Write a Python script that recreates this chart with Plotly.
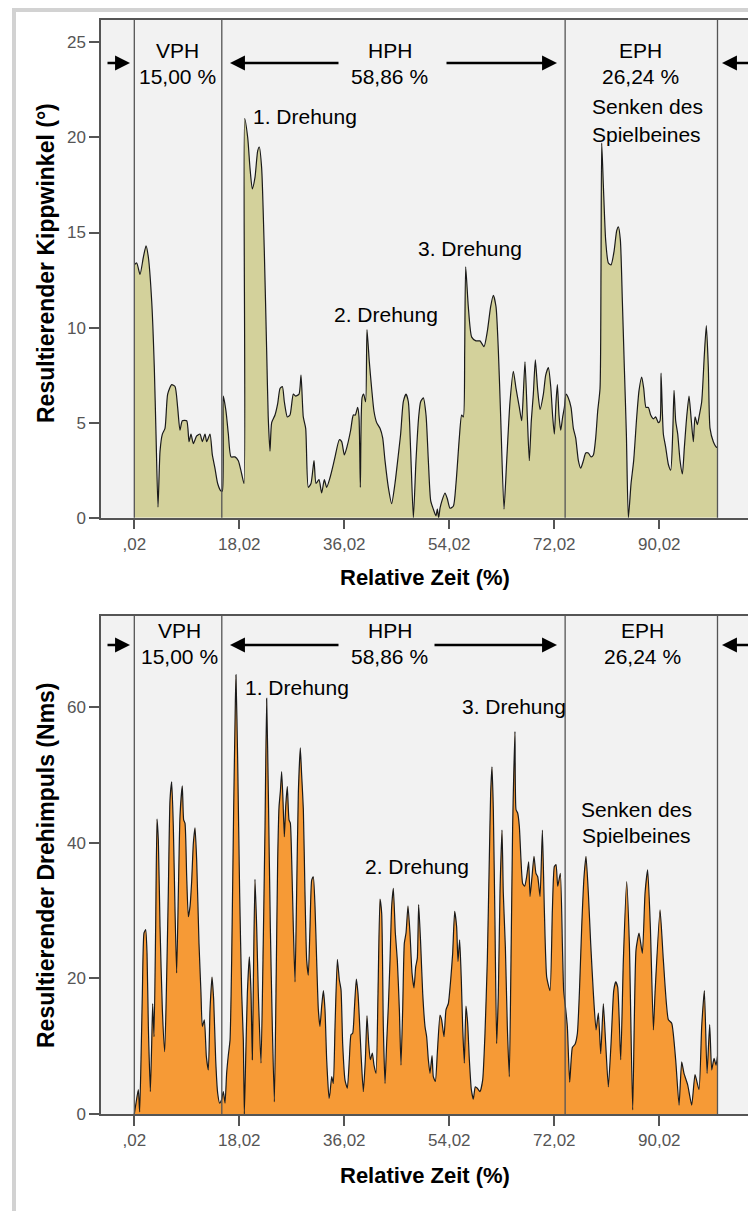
import plotly.graph_objects as go

# ---------------- data ----------------
time_kipp = [0.02, 0.43, 1.0, 1.57, 2.03, 2.43, 3.0, 3.45, 3.74, 4.08, 4.43, 4.83, 5.28, 5.74, 6.43, 7.0,
             7.45, 7.85, 8.25, 9.0, 9.4, 9.74, 10.14, 10.71, 11.28, 11.68, 12.14, 12.43, 13.0, 13.4, 13.85,
             14.31, 14.88, 15.11, 15.28, 15.74, 16.14, 16.6, 17.28, 17.85, 18.43, 18.83, 18.94, 19.46, 19.85,
             20.25, 20.71, 21.17, 21.45, 21.85, 22.31, 22.71, 22.98, 23.28, 23.57, 24.14, 24.6, 25.0, 25.4,
             25.74, 26.26, 26.71, 27.28, 27.68, 28.26, 28.6, 28.99, 29.4, 29.85, 30.31, 30.83, 31.17, 31.68,
             32.14, 32.6, 33.0, 33.57, 34.14, 34.43, 35.17, 35.57, 36.03, 36.54, 37.11, 37.57, 37.91, 38.31,
             38.54, 38.77, 39.06, 39.34, 39.68, 39.91, 40.31, 40.71, 41.11, 41.57, 42.14, 42.6, 43.0, 43.57,
             44.14, 44.71, 45.28, 45.68, 46.14, 46.6, 47.0, 47.4, 47.86, 48.31, 48.77, 49.11, 49.57, 50.03,
             50.43, 50.83, 51.28, 51.74, 51.97, 52.2, 52.43, 52.77, 53.28, 53.68, 54.14, 54.71, 55.17, 55.74,
             56.14, 56.43, 56.66, 56.83, 57.28, 57.86, 58.6, 59.28, 59.97, 60.54, 61.11, 61.57, 62.03, 62.43,
             62.83, 63.4, 63.86, 64.43, 65.0, 65.46, 66.03, 66.43, 66.71, 67.0, 67.4, 67.74, 68.08, 68.43,
             68.77, 69.18, 69.58, 70.15, 70.55, 71.01, 71.41, 71.75, 72.03, 72.32, 72.55, 72.83, 73.12, 73.46,
             73.75, 74.03, 74.43, 74.89, 75.29, 75.69, 76.15, 76.55, 77.01, 77.41, 77.86, 78.32, 78.72, 79.12,
             79.46, 79.86, 80.03, 80.15, 80.43, 80.83, 81.29, 81.75, 82.26, 82.72, 83.01, 83.35, 83.69, 84.03,
             84.38, 84.72, 85.18, 85.63, 86.15, 86.55, 87.01, 87.35, 87.75, 88.15, 88.55, 89.01, 89.41, 89.86,
             90.15, 90.32, 90.72, 91.12, 91.58, 91.98, 92.32, 92.55, 92.83, 93.18, 93.58, 93.98, 94.32, 94.72,
             95.12, 95.46, 95.86, 96.15, 96.55, 96.89, 97.29, 97.75, 98.09, 98.43, 98.72, 99.29, 99.86, 100.0]
kippwinkel = [13.3, 13.4, 12.8, 13.7, 14.3, 13.7, 11.4, 7.9, 4.4, 0.56, 3.5, 4.4, 4.7, 6.5, 7.0, 6.9,
              5.8, 4.6, 5.1, 5.1, 4.0, 4.4, 3.9, 4.3, 4.4, 4.0, 4.4, 4.0, 4.4, 3.3, 2.6,
              1.8, 1.4, 1.4, 6.4, 5.6, 4.4, 3.2, 3.2, 3.0, 2.3, 1.8, 21.0, 20.0, 18.4,
              17.3, 17.9, 19.3, 19.5, 18.4, 14.0, 8.8, 5.3, 3.5, 5.0, 5.4, 6.0, 6.8, 6.9,
              6.1, 5.3, 5.4, 6.5, 6.4, 6.5, 7.5, 5.3, 4.7, 1.6, 1.8, 3.0, 1.8, 2.0,
              1.3, 2.0, 1.6, 2.1, 2.8, 3.2, 4.1, 4.0, 3.3, 3.8, 4.6, 5.4, 5.4, 5.8,
              5.3, 1.6, 6.3, 6.5, 6.1, 9.9, 8.2, 6.8, 5.6, 5.0, 4.7, 4.2, 3.0, 1.6,
              0.74, 1.8, 3.3, 4.4, 6.1, 6.5, 6.1, 3.5, 0.0, 3.0, 5.3, 6.1, 6.3, 5.4,
              3.0, 0.9, 0.45, 0.1, 0.45, 0.0, 0.5, 0.9, 1.3, 1.0, 0.5, 0.6, 1.8, 4.2,
              5.4, 5.3, 8.8, 13.2, 11.1, 9.5, 9.3, 9.3, 9.0, 9.8, 11.1, 11.7, 11.1, 8.8,
              5.3, 0.45, 3.0, 6.1, 7.7, 6.8, 5.8, 5.1, 6.5, 8.2, 5.3, 3.0, 5.1, 6.5,
              8.3, 6.7, 5.7, 6.5, 7.5, 7.9, 6.9, 5.3, 4.4, 6.1, 7.0, 5.4, 4.6, 5.3,
              5.8, 6.5, 6.3, 5.8, 4.7, 4.2, 3.0, 2.6, 3.0, 3.4, 3.4, 3.2, 3.3, 4.2,
              5.6, 6.8, 13.1, 19.7, 17.5, 14.6, 13.4, 13.3, 14.0, 15.1, 15.3, 14.6, 11.4, 7.9,
              4.4, 0.0, 1.8, 3.0, 5.3, 6.7, 7.4, 6.8, 5.8, 5.8, 5.4, 5.2, 5.3, 5.0,
              5.1, 7.6, 4.4, 3.7, 2.8, 2.5, 4.4, 6.7, 5.1, 4.4, 3.0, 2.3, 3.7, 5.3,
              6.4, 5.3, 4.0, 5.3, 4.9, 5.4, 6.1, 8.6, 10.1, 7.9, 4.7, 4.0, 3.7, 3.7]

time_dreh = [0.02, 0.31, 0.71, 0.94, 1.17, 1.4, 1.68, 1.97, 2.2, 2.43, 2.77, 3.0, 3.17, 3.4, 3.68, 3.91,
             4.14, 4.43, 4.83, 5.23, 5.51, 5.85, 6.14, 6.43, 6.71, 7.0, 7.28, 7.57, 7.85, 8.25, 8.48,
             8.71, 9.0, 9.28, 9.57, 9.85, 10.14, 10.43, 10.71, 11.11, 11.45, 11.68, 12.03, 12.37, 12.71,
             13.0, 13.34, 13.63, 13.97, 14.31, 14.65, 14.98, 15.28, 15.57, 15.85, 16.14, 16.43, 16.71,
             17.05, 17.34, 17.45, 17.74, 18.08, 18.43, 18.71, 18.88, 19.11, 19.4, 19.74, 20.03, 20.25,
             20.48, 20.71, 21.0, 21.28, 21.74, 22.08, 22.43, 22.71, 23.0, 23.34, 23.68, 24.03, 24.31,
             24.6, 24.83, 25.06, 25.28, 25.51, 25.74, 25.97, 26.25, 26.54, 26.77, 27.0, 27.28, 27.57,
             27.85, 28.14, 28.48, 28.71, 29.0, 29.28, 29.57, 29.85, 30.14, 30.43, 30.71, 31.0, 31.28,
             31.57, 31.85, 32.14, 32.43, 32.71, 33.0, 33.4, 33.57, 33.86, 34.14, 34.43, 34.83, 35.17,
             35.46, 35.74, 36.14, 36.54, 36.88, 37.17, 37.46, 37.74, 38.08, 38.37, 38.6, 38.94, 39.28,
             39.63, 39.91, 40.2, 40.48, 40.83, 41.11, 41.46, 41.8, 42.14, 42.43, 42.71, 43.0, 43.28,
             43.57, 43.86, 44.14, 44.43, 44.77, 45.11, 45.46, 45.74, 46.03, 46.31, 46.6, 46.94, 47.28,
             47.63, 47.97, 48.26, 48.54, 48.77, 49.11, 49.46, 49.86, 50.14, 50.43, 50.71, 51.06, 51.28,
             51.63, 51.97, 52.43, 52.71, 53.11, 53.46, 53.86, 54.26, 54.6, 54.94, 55.28, 55.51, 55.8,
             56.08, 56.31, 56.6, 56.88, 57.17, 57.46, 57.8, 58.14, 58.48, 58.83, 59.28, 59.74, 60.14,
             60.54, 60.88, 61.11, 61.34, 61.57, 61.86, 62.14, 62.43, 62.71, 63.06, 63.28, 63.63, 63.97,
             64.31, 64.6, 64.88, 65.06, 65.28, 65.46, 65.74, 66.03, 66.31, 66.6, 66.94, 67.28, 67.63,
             67.86, 68.2, 68.54, 68.88, 69.18, 69.58, 69.98, 70.32, 70.72, 71.29, 71.69, 72.03, 72.32,
             72.61, 73.06, 73.41, 73.63, 73.98, 74.26, 74.66, 75.12, 75.58, 75.98, 76.32, 76.72, 77.12,
             77.46, 77.86, 78.26, 78.72, 79.18, 79.58, 79.98, 80.43, 80.83, 81.29, 81.75, 82.21, 82.55,
             82.89, 83.41, 83.86, 84.43, 84.89, 85.46, 86.03, 86.55, 87.12, 87.58, 88.03, 88.49, 89.01,
             89.29, 90.15, 90.72, 91.58, 92.15, 92.83, 93.41, 93.86, 94.26, 94.89, 95.58, 96.15, 96.83,
             97.29, 97.75, 98.21, 98.66, 99.01, 99.41, 99.75, 100.0]
drehimpuls = [0.0, 1.6, 3.6, 0.3, 8.0, 17.8, 26.7, 27.2, 23.7, 12.9, 3.3, 10.4, 16.3, 11.4, 27.6, 43.5,
              40.4, 27.6, 15.4, 9.2, 17.8, 32.6, 46.3, 49.0, 42.4, 30.1, 20.8, 32.6, 43.9, 48.4, 43.4,
              42.9, 35.0, 29.1, 30.6, 34.3, 39.9, 42.2, 37.5, 25.2, 17.8, 12.9, 13.9, 8.5, 6.5,
              15.4, 20.2, 16.8, 8.0, 3.1, 1.6, 2.1, 3.3, 1.6, 6.0, 8.7, 10.9, 22.7,
              44.9, 60.6, 64.8, 52.2, 32.6, 17.8, 10.9, 0.0, 8.0, 17.8, 23.2, 17.8, 8.0,
              22.7, 34.6, 27.6, 17.8, 7.5, 22.7, 42.4, 61.3, 47.3, 27.6, 12.9, 1.8, 17.8,
              37.5, 45.3, 47.6, 50.5, 46.3, 40.9, 45.3, 48.3, 43.4, 42.9, 37.5, 27.6, 19.5,
              32.6, 47.3, 54.0, 50.0, 44.9, 32.6, 22.7, 20.5, 27.6, 34.5, 35.0, 30.6, 22.7,
              15.4, 12.9, 15.9, 18.2, 15.4, 8.0, 2.3, 3.1, 5.5, 4.5, 12.9, 22.8, 19.8,
              18.3, 10.4, 5.0, 3.8, 8.0, 11.7, 11.9, 15.4, 19.9, 17.8, 14.1, 8.0, 3.3,
              8.0, 14.5, 10.4, 8.0, 9.0, 7.2, 6.0, 17.8, 31.7, 29.6, 12.9, 4.5, 10.4,
              15.9, 22.7, 30.6, 33.3, 26.7, 22.7, 15.4, 7.2, 15.4, 25.2, 26.7, 30.7, 26.7,
              20.8, 18.6, 21.7, 23.0, 30.9, 25.2, 17.8, 12.9, 11.4, 8.0, 6.0, 8.6, 5.5,
              4.8, 9.0, 14.6, 13.9, 11.4, 15.4, 16.3, 19.8, 23.7, 29.9, 27.6, 22.5, 25.7,
              19.8, 12.9, 7.5, 15.9, 13.4, 8.0, 3.6, 2.2, 4.0, 3.8, 3.3, 5.0, 11.9,
              22.7, 37.5, 47.3, 51.2, 44.9, 27.6, 10.4, 17.8, 32.6, 41.9, 32.6, 24.7, 12.9,
              5.5, 22.7, 42.4, 49.8, 56.4, 44.9, 44.4, 42.4, 37.5, 34.0, 33.6, 35.0, 37.2,
              32.1, 35.0, 38.0, 35.5, 35.0, 32.1, 41.9, 30.0, 20.2, 18.2, 30.0, 36.5, 36.8,
              33.6, 35.5, 25.0, 18.2, 15.4, 12.9, 4.7, 9.8, 10.3, 11.9, 17.8, 27.6, 35.0,
              38.0, 32.6, 25.2, 17.8, 12.4, 14.9, 8.9, 16.3, 10.4, 4.0, 10.4, 18.2, 19.5,
              18.7, 8.0, 22.7, 34.3, 25.2, 0.6, 24.2, 26.7, 23.7, 32.6, 36.0, 27.6, 12.4,
              17.8, 30.1, 22.7, 13.9, 13.4, 8.0, 1.3, 7.7, 6.0, 4.3, 1.3, 5.8, 3.6,
              12.9, 18.2, 6.0, 13.2, 6.5, 8.2, 7.2, 8.5]

phase_bounds = [0.02, 15.02, 73.88, 100.0]
phase_names = ["VPH", "HPH", "EPH"]
phase_pcts = ["15,00 %", "58,86 %", "26,24 %"]
x_tickvals = [0.02, 18.02, 36.02, 54.02, 72.02, 90.02]
x_ticktext = [",02", "18,02", "36,02", "54,02", "72,02", "90,02"]
y1_ticks = [0, 5, 10, 15, 20, 25]
y2_ticks = [0, 20, 40, 60]

# ---------------- layout helpers ----------------
W, H = 748, 1211
X_RANGE = [-5.69, 105.23]
X_LEFT_PX = 101


def py(p):
    return 1 - p / H


def dx(p):
    # pixel column -> data x
    return X_RANGE[0] + (p - X_LEFT_PX) * (X_RANGE[1] - X_RANGE[0]) / (W - X_LEFT_PX)


FONT = "Liberation Sans, Arial, sans-serif"
TICKFONT = dict(family=FONT, size=17, color="#555555")
AXLINE = "#555555"

fig = go.Figure()
fig.add_trace(go.Scatter(x=time_kipp, y=kippwinkel, mode="lines", fill="tozeroy",
                         fillcolor="#d3d19b", line=dict(color="#1a1a1a", width=1.2, shape="spline", smoothing=0.6),
                         xaxis="x", yaxis="y", showlegend=False))
fig.add_trace(go.Scatter(x=time_dreh, y=drehimpuls, mode="lines", fill="tozeroy",
                         fillcolor="#f69a36", line=dict(color="#1a1a1a", width=1.2, shape="spline", smoothing=0.5),
                         xaxis="x2", yaxis="y2", showlegend=False))

common_x = dict(range=X_RANGE, domain=[X_LEFT_PX / W, 1], tickvals=x_tickvals, ticktext=x_ticktext,
                ticks="outside", ticklen=10, tickwidth=1.5, tickcolor=AXLINE, showline=True,
                linecolor=AXLINE, linewidth=1.5, mirror=True, showgrid=False, zeroline=False,
                tickfont=TICKFONT)
common_y = dict(ticks="outside", ticklen=10, tickwidth=1.5, tickcolor=AXLINE, showline=True,
                linecolor=AXLINE, linewidth=1.5, showgrid=False, zeroline=False, tickfont=TICKFONT)

fig.update_layout(
    width=W, height=H, margin=dict(l=0, r=0, t=0, b=0, autoexpand=False),
    paper_bgcolor="white", plot_bgcolor="#f2f2f2",
    xaxis=dict(anchor="y", **common_x),
    yaxis=dict(anchor="x", domain=[py(517.7), py(20)], range=[0, 26.18], tickvals=y1_ticks, **common_y),
    xaxis2=dict(anchor="y2", **common_x),
    yaxis2=dict(anchor="x2", domain=[py(1114), py(615.5)], range=[0, 73.54], tickvals=y2_ticks, **common_y),
)

shapes = []
# outer light frame
shapes.append(dict(type="line", xref="paper", yref="paper", x0=14 / W, x1=14 / W, y0=py(8), y1=0,
                   line=dict(color="#d2d2d2", width=4)))
shapes.append(dict(type="line", xref="paper", yref="paper", x0=12 / W, x1=1, y0=py(10), y1=py(10),
                   line=dict(color="#d2d2d2", width=4)))
for xa, ya in (("x", "y"), ("x2", "y2")):
    for b in phase_bounds:
        shapes.append(dict(type="line", xref=xa, yref=ya + " domain", x0=b, x1=b, y0=0, y1=1,
                           line=dict(color="#555555", width=1.3), layer="above"))
fig.update_layout(shapes=shapes)

ann = []
TXT = dict(family=FONT, size=21, color="black")


def text(x, ypx, s, font=TXT, angle=0, xref="x"):
    ann.append(dict(x=x, y=py(ypx), xref=xref, yref="paper", text=s, showarrow=False,
                    font=font, xanchor="center", yanchor="middle", textangle=angle))


def arrow(x_tail_px, x_head_px, ypx):
    ann.append(dict(x=dx(x_head_px), y=py(ypx), ax=dx(x_tail_px), ay=0, xref="x", yref="paper",
                    axref="x", ayref="pixel", text="", showarrow=True, arrowhead=2, arrowsize=1.15,
                    arrowwidth=2.6, arrowcolor="black", standoff=0, startstandoff=0))


label_x_top = [7.5, 43.8, 86.8]
label_x_bot = [7.7, 43.8, 87.1]
for i in range(3):
    text(label_x_top[i], 50, phase_names[i])
    text(label_x_top[i], 76, phase_pcts[i])
    text(label_x_bot[i], 630, phase_names[i])
    text(label_x_bot[i], 656, phase_pcts[i])

# arrows top / bottom
for yy in (63, 645):
    arrow(106, 130, yy)
    arrow(340, 230, yy)
    arrow(445 if yy == 63 else 433, 557, yy)
    arrow(760, 722, yy)

text(dx(305), 117, "1. Drehung")
text(dx(386), 315, "2. Drehung")
text(dx(470), 249, "3. Drehung")
text(dx(647), 107, "Senken des")
text(dx(646), 134, "Spielbeines")

text(dx(297), 687, "1. Drehung")
text(dx(417), 866, "2. Drehung")
text(dx(514), 706, "3. Drehung")
text(dx(636), 809, "Senken des")
text(dx(636), 835, "Spielbeines")

XTITLE = dict(family=FONT, size=22, color="black")
YTITLE = dict(family=FONT, size=23, color="black")
text(dx(425), 577, "<b>Relative Zeit (%)</b>", font=XTITLE)
text(dx(425), 1175, "<b>Relative Zeit (%)</b>", font=XTITLE)
text(46 / W, 263, "<b>Resultierender Kippwinkel (°)</b>", font=YTITLE, angle=-90, xref="paper")
text(46 / W, 865, "<b>Resultierender Drehimpuls (Nms)</b>", font=YTITLE, angle=-90, xref="paper")

fig.update_layout(annotations=ann)

fig.write_html(
    "out.html",
    config={"displayModeBar": False},
    post_script=("document.body.style.margin='0';document.body.style.height='1211px';"
                 "document.body.style.overflow='hidden';document.documentElement.style.overflow='hidden';"),
)
